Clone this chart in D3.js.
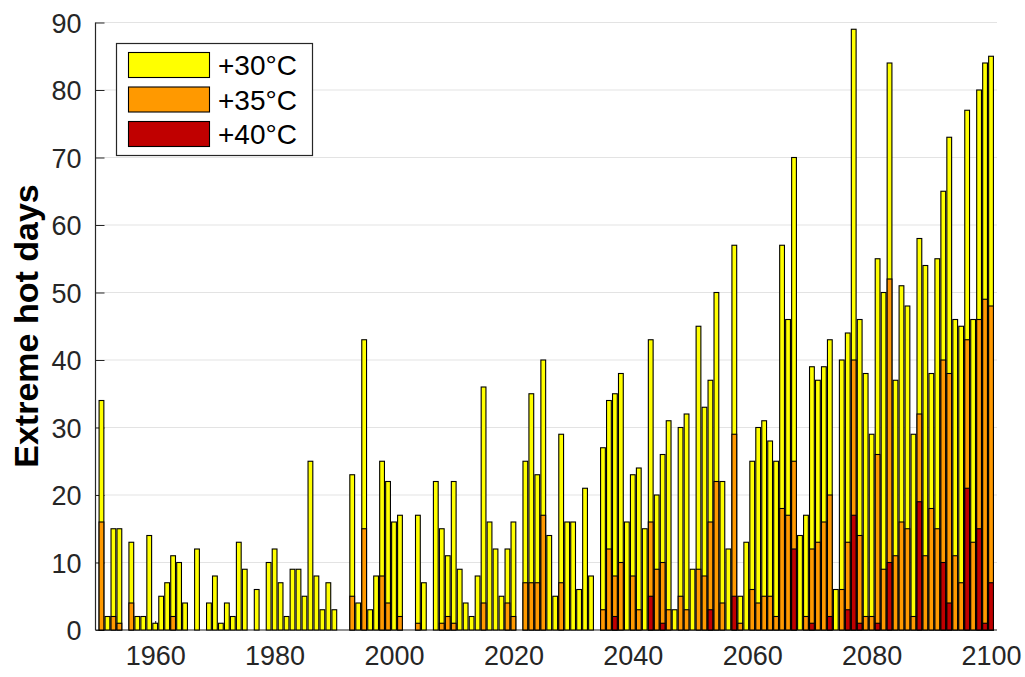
<!DOCTYPE html>
<html>
<head>
<meta charset="utf-8">
<script src="https://cdn.jsdelivr.net/npm/d3@7"></script>
<style>
  html, body { margin: 0; padding: 0; background: #fff; }
  svg { display: block; font-family: "Liberation Sans", Arial, Helvetica, sans-serif; }
</style>
</head>
<body>
<svg id="chart" width="1025" height="677"></svg>
<script>
// ---- data ----
const startYear = 1951;
const endYear = 2100;
const seriesNames = ["+30°C", "+35°C", "+40°C"];
const seriesColors = ["#ffff00", "#ff9900", "#c00000"];
const xTicks = [1960, 1980, 2000, 2020, 2040, 2060, 2080, 2100];
const yTicks = [0, 10, 20, 30, 40, 50, 60, 70, 80, 90];
const yLabel = "Extreme hot days";

// days above +30°C, 1951..2100
const hot30 = [
  34, 2, 15, 15, 0, 13, 2, 2, 14, 1,
  5, 7, 11, 10, 4, 0, 12, 0, 4, 8,
  1, 4, 2, 13, 9, 0, 6, 0, 10, 12,
  7, 2, 9, 9, 5, 25, 8, 3, 7, 3,
  0, 0, 23, 4, 43, 3, 8, 25, 22, 16,
  17, 0, 0, 17, 7, 0, 22, 15, 11, 22,
  9, 4, 2, 8, 36, 16, 12, 5, 12, 16,
  0, 25, 35, 23, 40, 14, 5, 29, 16, 16,
  6, 21, 8, 0, 27, 34, 35, 38, 16, 23,
  24, 15, 43, 20, 26, 31, 3, 30, 32, 9,
  45, 33, 37, 50, 22, 12, 57, 5, 13, 25,
  30, 31, 28, 25, 57, 46, 70, 14, 17, 39,
  37, 39, 43, 6, 40, 44, 89, 46, 38, 29,
  55, 50, 84, 37, 51, 48, 29, 58, 54, 38,
  55, 65, 73, 46, 45, 77, 46, 80, 84, 85
];
// days above +35°C
const hot35 = [
  16, 0, 2, 1, 0, 4, 0, 0, 0, 0,
  0, 0, 2, 0, 0, 0, 0, 0, 0, 0,
  0, 0, 0, 0, 0, 0, 0, 0, 0, 0,
  0, 0, 0, 0, 0, 0, 0, 0, 0, 0,
  0, 0, 5, 0, 15, 0, 0, 8, 4, 0,
  2, 0, 0, 1, 0, 0, 0, 1, 2, 1,
  0, 0, 0, 0, 4, 0, 0, 0, 4, 2,
  0, 7, 7, 7, 17, 0, 0, 7, 0, 0,
  0, 0, 0, 0, 3, 12, 8, 10, 0, 8,
  3, 0, 16, 9, 10, 3, 0, 5, 3, 0,
  9, 8, 16, 22, 4, 0, 29, 1, 0, 6,
  4, 5, 5, 2, 18, 17, 25, 0, 2, 12,
  13, 16, 20, 0, 6, 13, 40, 14, 2, 2,
  26, 9, 52, 11, 16, 15, 2, 32, 11, 18,
  15, 40, 38, 11, 7, 43, 13, 46, 49, 48
];
// days above +40°C
const hot40 = [
  0, 0, 0, 0, 0, 0, 0, 0, 0, 0,
  0, 0, 0, 0, 0, 0, 0, 0, 0, 0,
  0, 0, 0, 0, 0, 0, 0, 0, 0, 0,
  0, 0, 0, 0, 0, 0, 0, 0, 0, 0,
  0, 0, 0, 0, 0, 0, 0, 0, 0, 0,
  0, 0, 0, 0, 0, 0, 0, 0, 0, 0,
  0, 0, 0, 0, 0, 0, 0, 0, 0, 0,
  0, 0, 0, 0, 0, 0, 0, 0, 0, 0,
  0, 0, 0, 0, 0, 0, 2, 0, 0, 0,
  0, 0, 5, 0, 1, 0, 0, 0, 0, 0,
  0, 0, 3, 0, 0, 0, 5, 0, 0, 0,
  0, 0, 0, 0, 0, 0, 12, 0, 0, 1,
  0, 0, 2, 0, 0, 3, 17, 1, 0, 0,
  1, 0, 10, 0, 0, 0, 0, 19, 0, 0,
  0, 10, 4, 0, 0, 21, 0, 15, 1, 7
];

const years = d3.range(startYear, endYear + 1);
const series = [hot30, hot35, hot40];

// ---- layout ----
const svg = d3.select("#chart");
const plot = { left: 95.5, right: 997, top: 22.5, bottom: 630 };

const x = d3.scaleLinear().domain([1950, 2101]).range([plot.left, plot.right]);
const y = d3.scaleLinear().domain([0, 90]).range([plot.bottom, plot.top]);
const barW = 0.8 * (x(1951) - x(1950));
const axisColor = "#262626";

// grid
svg.append("g")
  .selectAll("line")
  .data(yTicks.filter(d => d > 0))
  .join("line")
  .attr("x1", plot.left).attr("x2", plot.right)
  .attr("y1", d => y(d)).attr("y2", d => y(d))
  .attr("stroke", "#e3e3e3").attr("stroke-width", 1);

// axes (drawn under the bars)
const xAxis = d3.axisBottom(x).tickValues(xTicks).tickFormat(d3.format("d")).tickSizeInner(-9).tickSizeOuter(0).tickPadding(16);
const yAxis = d3.axisLeft(y).tickValues(yTicks).tickSizeInner(-9).tickSizeOuter(0).tickPadding(14);

const gx = svg.append("g").attr("transform", `translate(0,${plot.bottom})`).call(xAxis);
const gy = svg.append("g").attr("transform", `translate(${plot.left},0)`).call(yAxis);
[gx, gy].forEach(g => {
  g.select(".domain").attr("stroke", axisColor).attr("stroke-width", 1.2);
  g.selectAll(".tick line").attr("stroke", axisColor).attr("stroke-width", 1);
  g.selectAll(".tick text").attr("fill", axisColor).attr("font-size", 27)
    .attr("font-family", "'Liberation Sans', Arial, sans-serif");
});
gy.select(".domain").attr("d", `M0,${plot.bottom}V${plot.top}`);
gx.select(".domain").attr("d", `M${plot.left},0H${plot.right}`);
gx.selectAll(".tick text").attr("dy", "0.71em");
gy.selectAll(".tick text").attr("dy", "0.36em");

// bars: each series overlaid at the same x position
series.forEach((vals, si) => {
  svg.append("g")
    .selectAll("rect")
    .data(years.map((yr, i) => ({ yr, v: vals[i] })).filter(d => d.v > 0))
    .join("rect")
    .attr("x", d => x(d.yr) - barW / 2)
    .attr("width", barW)
    .attr("y", d => y(d.v))
    .attr("height", d => y(0) - y(d.v))
    .attr("fill", seriesColors[si])
    .attr("stroke", "#000")
    .attr("stroke-width", 1.1);
});

// y label
svg.append("text")
  .attr("transform", `translate(38,326) rotate(-90)`)
  .attr("text-anchor", "middle")
  .attr("font-size", 34)
  .attr("font-weight", "bold")
  .attr("fill", "#000")
  .text(yLabel);

// legend
const lg = svg.append("g");
lg.append("rect")
  .attr("x", 116.5).attr("y", 43.5).attr("width", 196).attr("height", 112)
  .attr("fill", "#fff").attr("stroke", axisColor).attr("stroke-width", 1.2);
seriesNames.forEach((name, i) => {
  const cy = 65 + i * 34.5;
  lg.append("rect")
    .attr("x", 128.5).attr("y", cy - 12.5).attr("width", 81).attr("height", 25)
    .attr("fill", seriesColors[i]).attr("stroke", "#000").attr("stroke-width", 1.1);
  lg.append("text")
    .attr("x", 218).attr("y", cy).attr("dy", "0.36em")
    .attr("font-size", 28).attr("fill", "#000")
    .text(name);
});
</script>
</body>
</html>
